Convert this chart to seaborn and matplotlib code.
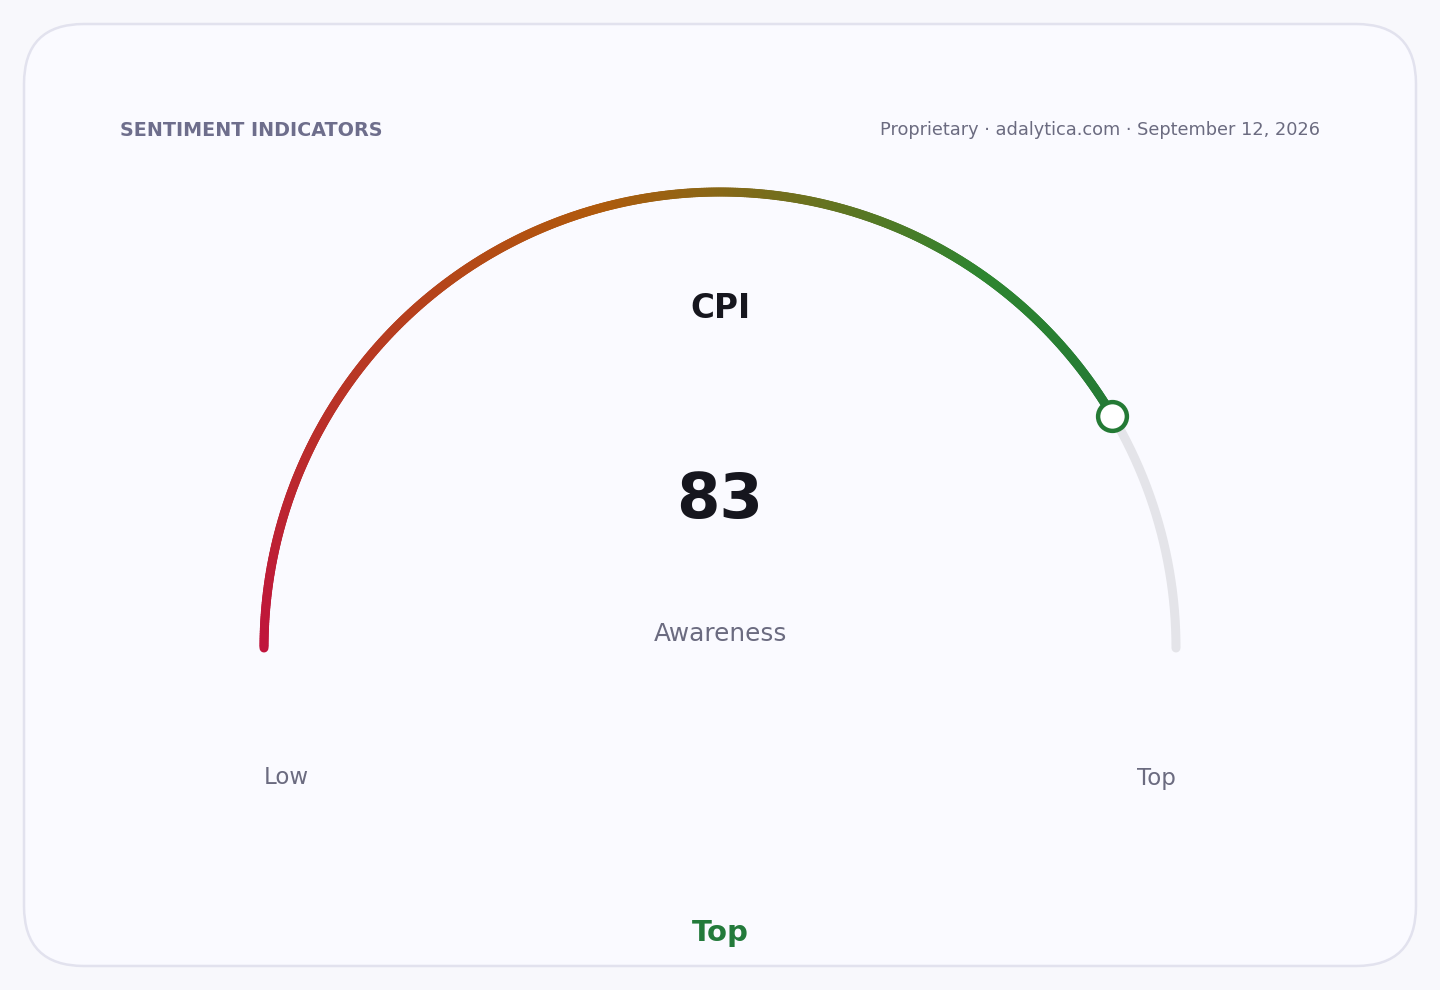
import numpy as np
import matplotlib
matplotlib.use("Agg")
import matplotlib.pyplot as plt
import seaborn as sns
from matplotlib.collections import LineCollection
from matplotlib.colors import LinearSegmentedColormap
from matplotlib.patches import FancyBboxPatch

sns.set_theme(style="white")
plt.rcParams['font.family'] = ['DejaVu Sans']

# data
indicator = "CPI"
metric = "Awareness"
value = 83
scale_min, scale_max = 0, 100
scale_labels = ["Low", "Top"]
verdict = "Top"
header_left = "SENTIMENT INDICATORS"
header_right = "Proprietary · adalytica.com · September 12, 2026"
grad_stops = [0.0, 0.5, 0.84, 1.0]
grad_colors = ["#c0143c", "#b05a0c", "#2e8530", "#247a35"]

BG = "#f8f8fc"
CARD = "#fafaff"
MUTED = "#6b6b80"
DARK = "#16161e"

fig = plt.figure(figsize=(14.4, 9.9), dpi=100)
fig.patch.set_facecolor(BG)
ax = fig.add_axes([0, 0, 1, 1])
ax.set_xlim(0, 1440)
ax.set_ylim(990, 0)
ax.set_aspect('equal')
ax.axis('off')

card = FancyBboxPatch((24, 24), 1392, 942, boxstyle="round,pad=0,rounding_size=60",
                      facecolor=CARD, edgecolor="#e2e2ee", lw=1.8, zorder=0)
ax.add_patch(card)

cx, cy, R = 720, 648, 456


def to_xy(v):
    th = np.pi * (1 - (np.asarray(v) - scale_min) / (scale_max - scale_min))
    return cx + R * np.cos(th), cy - R * np.sin(th)


# background track
tv = np.linspace(value, scale_max, 200)
tx, ty = to_xy(tv)
ax.plot(tx, ty, color="#e4e4e9", lw=6.5, solid_capstyle="round", zorder=1)

# gradient arc
vv = np.linspace(scale_min, value, 500)
gx, gy = to_xy(vv)
pts = np.column_stack([gx, gy]).reshape(-1, 1, 2)
segs = np.concatenate([pts[:-1], pts[1:]], axis=1)
cmap = LinearSegmentedColormap.from_list("gauge", list(zip(grad_stops, grad_colors)))
lc = LineCollection(segs, colors=cmap(np.linspace(0, 1, len(segs))), lw=6.5,
                    capstyle="round", zorder=2)
ax.add_collection(lc)

# marker at value
mx, my = to_xy(value)
sns.scatterplot(x=[float(mx)], y=[float(my)], ax=ax, s=430, color="white",
                edgecolor=grad_colors[-1], linewidth=3.2, zorder=3, legend=False)

ax.text(cx, 308, indicator, ha="center", va="center", fontsize=23.5,
        fontweight="bold", color=DARK)
ax.text(cx, 501, str(value), ha="center", va="center", fontsize=45,
        fontweight="bold", color=DARK)
ax.text(cx, 634, metric, ha="center", va="center", fontsize=17.8, color=MUTED)

lx, _ = to_xy(scale_min)
rx, _ = to_xy(scale_max)
ax.text(lx, 778, scale_labels[0], ha="left", va="center", fontsize=16.5, color=MUTED)
ax.text(rx, 778, scale_labels[1], ha="right", va="center", fontsize=16.5, color=MUTED)

ax.text(cx, 933, verdict, ha="center", va="center", fontsize=21,
        fontweight="bold", color="#237a3b")

ax.text(120, 130, header_left, ha="left", va="center", fontsize=13.8,
        fontweight="bold", color="#6e6e8c")
ax.text(1320, 130, header_right, ha="right", va="center", fontsize=12.8,
        color="#6b6b80")

fig.savefig("out.png", dpi=100, facecolor=fig.get_facecolor())
